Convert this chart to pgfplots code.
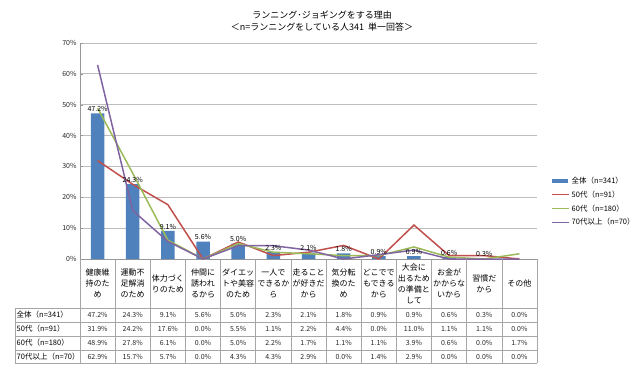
\documentclass[border=0pt]{standalone}
\usepackage{fontspec}
\setmainfont{Noto Sans CJK JP}
\usepackage{pgfplots}
\usepackage{pgfplotstable}
\pgfplotsset{compat=1.18}
\definecolor{cAll}{HTML}{4F81BD}
\definecolor{c50}{HTML}{C0504D}
\definecolor{c60}{HTML}{9BBB59}
\definecolor{c70}{HTML}{8064A2}
\definecolor{gridc}{HTML}{BDBDBD}
\definecolor{tabc}{HTML}{A6A6A6}
\pgfplotstableread{
x all s50 s60 s70
0 47.2 31.9 48.9 62.9
1 24.3 24.2 27.8 15.7
2 9.1 17.6 6.1 5.7
3 5.6 0.0 0.0 0.0
4 5.0 5.5 5.0 4.3
5 2.3 1.1 2.2 4.3
6 2.1 2.2 1.7 2.9
7 1.8 4.4 1.1 0.0
8 0.9 0.0 1.1 1.4
9 0.9 11.0 3.9 2.9
10 0.6 1.1 0.6 0.0
11 0.3 1.1 0.0 0.0
12 0.0 0.0 1.7 0.0
}\data
\begin{document}
\begin{tikzpicture}[x=1pt,y=1pt]
\path[use as bounding box] (0,0) rectangle (640,370);
% title
\node[font=\fontsize{9}{12}\selectfont, align=center] at (322,349) {ランニング･ジョギングをする理由\\＜n=ランニングをしている人341\hspace{4pt}単一回答＞};
\begin{axis}[
  at={(80pt,111pt)}, anchor=south west,
  scale only axis, width=457pt, height=216pt,
  xmin=-0.5, xmax=12.5, ymin=0, ymax=70,
  xtick=\empty,
  ytick={0,10,...,70},
  yticklabel={\pgfmathprintnumber{\tick}\%},
  /pgf/number format/assume math mode=true,
  yticklabel style={font=\fontsize{7}{8}\selectfont, text=black!85},
  ymajorgrids, grid style={gridc, line width=0.8pt},
  axis x line*=bottom, axis y line*=left,
  x axis line style={gridc!80!black, -},
  y axis line style={gridc!80!black, -},
  major tick length=3pt,
  tick style={gridc!80!black},
  legend style={at={(1.024,0.40)}, anchor=north west, draw=none, fill=none,
    font=\fontsize{7.5}{9}\selectfont, row sep=2pt},
  legend cell align=left,
  clip=false,
]
\addplot[ybar, bar width=13.5pt, fill=cAll, draw=none,
  restrict x to domain=0:11,
  nodes near coords={\pgfmathprintnumber[fixed,fixed zerofill,precision=1]{\pgfplotspointmeta}\%},
  nodes near coords style={font=\fontsize{7}{8}\selectfont, text=black, inner sep=1.5pt},
  point meta=explicit,
  legend image code/.code={\fill[cAll] (0pt,-2pt) rectangle (16pt,2pt);}]
  table[x=x, y=all, meta=all] {\data};
\addlegendentry{全体（n=341）}
\addplot[c50, line width=1.5pt, mark=none] table[x=x, y=s50] {\data};
\addlegendentry{50代（n=91）}
\addplot[c60, line width=1.5pt, mark=none] table[x=x, y=s60] {\data};
\addlegendentry{60代（n=180）}
\addplot[c70, line width=1.5pt, mark=none] table[x=x, y=s70] {\data};
\addlegendentry{70代以上（n=70）}
\end{axis}
% data table
\def\cw{35.1538}
\foreach \i in {0,...,13} {
  \draw[tabc, line width=0.6pt] ({80+\i*\cw},7) -- ({80+\i*\cw},111);
}
\draw[tabc, line width=0.6pt] (15,7) -- (15,62);
\foreach \yy in {62,48,34,20,7} {
  \draw[tabc, line width=0.6pt] (15,\yy) -- (537,\yy);
}
\foreach \t [count=\k from 0] in {
  {健康維\\持のた\\め},{運動不\\足解消\\のため},{体力づく\\りのため},{仲間に\\誘われ\\るから},
  {ダイエッ\\トや美容\\のため},{一人で\\できるか\\ら},{走ること\\が好きだ\\から},{気分転\\換のた\\め},
  {どこでで\\もできる\\から},{大会に\\出るため\\の準備と\\して},{お金が\\かからな\\いから},{習慣だ\\から},{その他}} {
  \node[font=\fontsize{8}{11}\selectfont, align=center, inner sep=0pt] at ({80+(\k+0.5)*\cw},86.5) {\t};
}
\foreach \lab/\vals/\yc in {
  {全体（n=341）}/{47.2,24.3,9.1,5.6,5.0,2.3,2.1,1.8,0.9,0.9,0.6,0.3,0.0}/55,
  {50代（n=91）}/{31.9,24.2,17.6,0.0,5.5,1.1,2.2,4.4,0.0,11.0,1.1,1.1,0.0}/41,
  {60代（n=180）}/{48.9,27.8,6.1,0.0,5.0,2.2,1.7,1.1,1.1,3.9,0.6,0.0,1.7}/27,
  {70代以上（n=70）}/{62.9,15.7,5.7,0.0,4.3,4.3,2.9,0.0,1.4,2.9,0.0,0.0,0.0}/13.5} {
  \node[anchor=west, font=\fontsize{7.5}{9}\selectfont, inner sep=0pt] at (16.5,\yc) {\lab};
  \foreach \v [count=\k from 0] in \vals {
    \node[font=\fontsize{7}{8}\selectfont, inner sep=0pt, text=black!85] at ({80+(\k+0.5)*\cw},\yc) {\v\%};
  }
}
\end{tikzpicture}
\end{document}
